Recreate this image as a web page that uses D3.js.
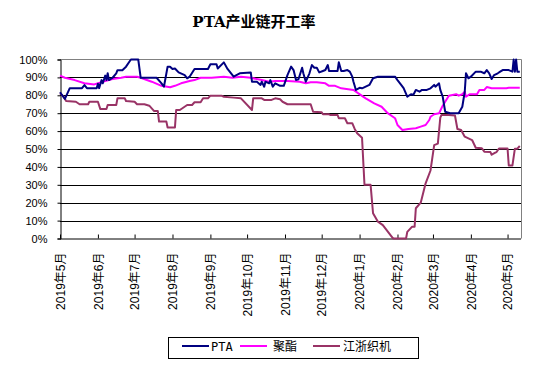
<!DOCTYPE html>
<html>
<head>
<meta charset="utf-8">
<script src="https://cdn.jsdelivr.net/npm/d3@7"></script>
<style>
  html, body { margin: 0; padding: 0; background: #fff; }
  svg { display: block; }
  text { font-family: "Liberation Sans", "Noto Sans CJK SC", sans-serif; }
</style>
</head>
<body>
<svg id="chart" width="545" height="382"></svg>
<script>
const title = "PTA产业链开工率";
const seriesNames = ["PTA", "聚酯", "江浙织机"];
const seriesColors = ["#000080", "#FF00FF", "#993366"];
const yTicks = [0, 10, 20, 30, 40, 50, 60, 70, 80, 90, 100];
const xTickDates = ["2019-05-01","2019-06-01","2019-07-01","2019-08-01","2019-09-01","2019-10-01","2019-11-01","2019-12-01","2020-01-01","2020-02-01","2020-03-01","2020-04-01","2020-05-01"];
const xTickLabels = ["2019年5月","2019年6月","2019年7月","2019年8月","2019年9月","2019年10月","2019年11月","2019年12月","2020年1月","2020年2月","2020年3月","2020年4月","2020年5月"];

const pta = [
["2019-05-01",81.7],["2019-05-05",78],["2019-05-09",84],["2019-05-19",84],["2019-05-21",85.7],["2019-05-23",84],
["2019-05-31",84],["2019-06-01",86.5],["2019-06-02",84],["2019-06-04",88.5],["2019-06-05",86.7],["2019-06-07",91],
["2019-06-08",88.5],["2019-06-09",92.3],["2019-06-10",88.5],["2019-06-13",89.8],["2019-06-16",92.3],["2019-06-17",94],
["2019-06-21",94],["2019-06-24",96],["2019-06-27",99],["2019-06-28",100],["2019-07-04",100],["2019-07-06",89.8],
["2019-07-19",89.8],["2019-07-23",86.7],["2019-07-25",84.8],["2019-07-28",96],["2019-07-30",96],["2019-08-01",94.7],
["2019-08-03",95],["2019-08-06",92.8],["2019-08-11",91.3],["2019-08-13",89.5],["2019-08-15",90.4],["2019-08-19",94.7],
["2019-08-30",94.7],["2019-09-01",97.3],["2019-09-06",97.3],["2019-09-07",95],["2019-09-12",98.4],["2019-09-15",94.7],
["2019-09-20",90.4],["2019-09-25",92.3],["2019-10-04",92.8],["2019-10-05",87.6],["2019-10-09",87.6],["2019-10-12",85.8],
["2019-10-13",87.6],["2019-10-15",84.8],["2019-10-16",87.6],["2019-10-19",86.7],["2019-10-20",88.5],["2019-10-22",84.8],
["2019-10-24",86.7],["2019-10-28",85.3],["2019-10-31",85.3],["2019-11-03",91.3],["2019-11-06",96],["2019-11-08",94.1],
["2019-11-10",88.5],["2019-11-12",89],["2019-11-15",95.4],["2019-11-16",92.3],["2019-11-18",87.6],["2019-11-21",92.3],
["2019-11-23",96.9],["2019-11-25",95.4],["2019-11-27",95.4],["2019-11-29",92.8],["2019-12-02",93.6],["2019-12-04",94.1],
["2019-12-06",96.9],["2019-12-07",93.6],["2019-12-14",93.6],["2019-12-15",98.4],["2019-12-17",93.6],["2019-12-19",93.6],
["2019-12-22",94.1],["2019-12-24",93.2],["2019-12-26",90.4],["2019-12-27",87.6],["2019-12-29",83],["2020-01-01",84.2],
["2020-01-03",83.9],["2020-01-09",85.8],["2020-01-12",89.5],["2020-01-16",90.4],["2020-01-30",90.4],["2020-02-01",88.5],
["2020-02-04",85.8],["2020-02-06",84],["2020-02-09",79.2],["2020-02-12",80.6],["2020-02-14",80.3],["2020-02-16",83],
["2020-02-19",82],["2020-02-21",83],["2020-02-25",83],["2020-02-28",83.9],["2020-03-02",85.8],["2020-03-03",84.8],
["2020-03-06",86.7],["2020-03-07",83],["2020-03-09",79.2],["2020-03-11",70.8],["2020-03-15",70],["2020-03-22",70],
["2020-03-25",73.6],["2020-03-27",82],["2020-03-28",92.3],["2020-03-30",89.5],["2020-04-01",90.4],["2020-04-05",93.2],
["2020-04-09",93.2],["2020-04-12",92.3],["2020-04-14",94.1],["2020-04-16",92.3],["2020-04-18",89.1],["2020-04-20",91.3],
["2020-04-23",92.3],["2020-04-25",93.2],["2020-04-27",94.1],["2020-05-02",94.1],["2020-05-05",93.2],["2020-05-06",100],
["2020-05-07",93.2],["2020-05-08",100],["2020-05-09",93.2],["2020-05-11",93.2]
];

const polyester = [
["2019-05-01",91],["2019-05-05",89.8],["2019-05-13",88.5],["2019-05-21",86.7],["2019-05-29",86.1],["2019-06-07",88],
["2019-06-13",89.1],["2019-06-20",89.8],["2019-06-24",90.4],["2019-07-03",90.4],["2019-07-06",89.8],["2019-07-15",87.6],
["2019-07-23",85.3],["2019-07-30",84.5],["2019-08-03",85.3],["2019-08-08",86.7],["2019-08-15",88],["2019-08-19",88.5],
["2019-08-24",89.8],["2019-09-02",89.8],["2019-09-12",90.4],["2019-09-19",89.8],["2019-09-26",90.4],["2019-10-04",89.8],
["2019-10-13",88.5],["2019-10-19",87.6],["2019-10-24",88],["2019-11-03",88],["2019-11-13",87.6],["2019-11-18",86.7],
["2019-11-22",87.3],["2019-11-27",87.3],["2019-12-04",86.7],["2019-12-07",85.3],["2019-12-12",85.3],["2019-12-17",83.9],
["2019-12-27",83],["2019-12-31",81.1],["2020-01-06",78.3],["2020-01-13",75.5],["2020-01-19",73.6],["2020-01-24",70],
["2020-01-30",67.2],["2020-02-01",63.4],["2020-02-05",60.6],["2020-02-10",61.2],["2020-02-16",61.6],["2020-02-20",62.5],
["2020-02-24",63.4],["2020-02-27",66.2],["2020-02-28",68],["2020-03-02",69.4],["2020-03-06",70],["2020-03-09",74.2],
["2020-03-11",76.4],["2020-03-14",79.8],["2020-03-20",80.6],["2020-03-22",79.8],["2020-03-25",80.6],["2020-03-27",82],
["2020-03-28",79.2],["2020-03-31",80.6],["2020-04-06",80.6],["2020-04-08",83],["2020-04-12",83],["2020-04-14",84.6],
["2020-04-18",83.9],["2020-04-30",83.9],["2020-05-02",84.2],["2020-05-11",84.2]
];

const looms = [
["2019-05-01",81.1],["2019-05-04",79.2],["2019-05-06",76.8],["2019-05-14",76.4],["2019-05-17",75],["2019-05-24",75],
["2019-05-25",76.4],["2019-06-01",76.4],["2019-06-03",72.3],["2019-06-08",72.3],["2019-06-09",74.6],["2019-06-16",74.6],
["2019-06-17",78.3],["2019-06-23",78.3],["2019-06-24",76.8],["2019-07-01",76.4],["2019-07-03",75],["2019-07-09",75],
["2019-07-13",74.2],["2019-07-17",71.2],["2019-07-20",71.2],["2019-07-21",65.3],["2019-07-27",65.3],["2019-07-28",62],
["2019-08-03",62],["2019-08-04",71.8],["2019-08-07",71.8],["2019-08-13",74.6],["2019-08-17",74.6],["2019-08-19",76.1],
["2019-08-24",76.1],["2019-08-26",78.3],["2019-08-30",78.3],["2019-09-01",79.8],["2019-09-10",79.8],["2019-09-12",79.2],
["2019-09-20",78.7],["2019-09-26",78.3],["2019-10-05",71.8],["2019-10-06",78.3],["2019-10-13",78.3],["2019-10-15",77.4],
["2019-10-21",77.4],["2019-10-24",78.3],["2019-10-28",77.8],["2019-10-30",76.4],["2019-11-03",75],["2019-11-22",75],
["2019-11-24",70.8],["2019-12-01",70.5],["2019-12-02",69.4],["2019-12-07",69.4],["2019-12-08",69],["2019-12-14",69],
["2019-12-15",67.2],["2019-12-20",67.2],["2019-12-22",64.4],["2019-12-26",64.4],["2019-12-28",61.2],["2019-12-30",58.8],
["2020-01-03",56.3],["2020-01-05",30],["2020-01-10",30],["2020-01-12",14.1],["2020-01-16",9.4],["2020-01-20",7.5],
["2020-01-28",0.3],["2020-01-29",0],["2020-02-08",0],["2020-02-09",3.7],["2020-02-13",6.6],["2020-02-15",6.6],
["2020-02-16",16.9],["2020-02-20",20],["2020-02-24",30.8],["2020-02-28",38],["2020-03-02",52.2],["2020-03-05",53],
["2020-03-07",67.5],["2020-03-08",69],["2020-03-14",69],["2020-03-19",68.7],["2020-03-21",61.2],["2020-03-24",60.6],
["2020-03-27",56.9],["2020-04-02",55],["2020-04-05",50.7],["2020-04-10",50.4],["2020-04-12",48.5],["2020-04-17",48.3],
["2020-04-18",46.8],["2020-04-21",48],["2020-04-22",48.3],["2020-04-24",50.3],["2020-05-01",50.3],["2020-05-02",40.8],
["2020-05-05",40.8],["2020-05-07",50.2],["2020-05-09",50.2],["2020-05-11",51.7]
];

const parse = d3.timeParse("%Y-%m-%d");
const svg = d3.select("#chart");
const plotLeft = 60, plotRight = 521, plotTop = 59.5, plotBottom = 238.5;

const x = d3.scaleTime().domain([parse("2019-05-01"), parse("2020-05-12")]).range([plotLeft, plotRight]);
const y = d3.scaleLinear().domain([0, 100]).range([plotBottom, plotTop]);

// title
svg.append("text").attr("x", 254).attr("y", 27).attr("text-anchor", "middle")
  .attr("font-size", 15).attr("font-weight", "bold")
  .style("font-family", "'DejaVu Serif', 'Noto Sans CJK SC', serif")
  .text(title);

// gridlines
svg.append("g").selectAll("line").data(yTicks.filter(v => v > 0 && v < 100)).join("line")
  .attr("x1", plotLeft).attr("x2", plotRight)
  .attr("y1", d => Math.round(y(d)) + 0.5).attr("y2", d => Math.round(y(d)) + 0.5)
  .attr("stroke", "#000").attr("stroke-width", 1);

// plot border top/right grey
svg.append("line").attr("x1", plotLeft).attr("x2", plotRight + 0.5).attr("y1", plotTop).attr("y2", plotTop)
  .attr("stroke", "#808080").attr("stroke-width", 1);
svg.append("line").attr("x1", plotRight + 0.5).attr("x2", plotRight + 0.5).attr("y1", plotTop).attr("y2", plotBottom)
  .attr("stroke", "#808080").attr("stroke-width", 1);

// y axis
const yAxis = d3.axisLeft(y).tickValues(yTicks).tickFormat(d => d + "%").tickSize(3).tickPadding(10);
const gy = svg.append("g").attr("transform", `translate(${plotLeft + 0.5},0)`).call(yAxis);
gy.select(".domain").attr("stroke", "#000");
gy.selectAll("text").attr("font-size", 11).style("font-family", "'Liberation Sans', sans-serif");

// x axis
const xAxis = d3.axisBottom(x).tickValues(xTickDates.map(parse)).tickSize(-4)
  .tickFormat((d, i) => xTickLabels[i]);
const gx = svg.append("g").attr("transform", `translate(0,${plotBottom})`).call(xAxis);
gx.select(".domain").attr("stroke", "#000").attr("d", `M${plotLeft},0.5H${plotRight}`);
gx.selectAll(".tick line").attr("stroke", "#000");
gx.selectAll("text")
  .attr("font-size", 12)
  .style("font-family", "'Liberation Sans', 'Noto Sans CJK SC', sans-serif")
  .attr("transform", "rotate(-90)")
  .attr("text-anchor", "end")
  .attr("x", -14).attr("y", 0).attr("dy", "0.35em");

// lines
const line = d3.line().x(d => x(parse(d[0]))).y(d => y(d[1]));
const allSeries = [pta, polyester, looms];
svg.append("g").selectAll("path").data([2, 1, 0]).join("path")
  .attr("d", i => line(allSeries[i]))
  .attr("fill", "none")
  .attr("stroke", i => seriesColors[i])
  .attr("stroke-width", 2)
  .attr("stroke-linejoin", "round");

// legend
const lg = svg.append("g");
lg.append("rect").attr("x", 168.5).attr("y", 337.5).attr("width", 250).attr("height", 21)
  .attr("fill", "#fff").attr("stroke", "#000");
const legX = [182, 240, 313];
const legTextX = [211, 273, 343];
seriesNames.forEach((n, i) => {
  lg.append("line").attr("x1", legX[i]).attr("x2", legX[i] + 27).attr("y1", 346).attr("y2", 346)
    .attr("stroke", seriesColors[i]).attr("stroke-width", 2);
  lg.append("text").attr("x", legTextX[i]).attr("y", 350.5).attr("font-size", 12)
    .style("font-family", "'DejaVu Sans Mono', 'Noto Sans CJK SC', monospace")
    .text(n);
});
</script>
</body>
</html>
